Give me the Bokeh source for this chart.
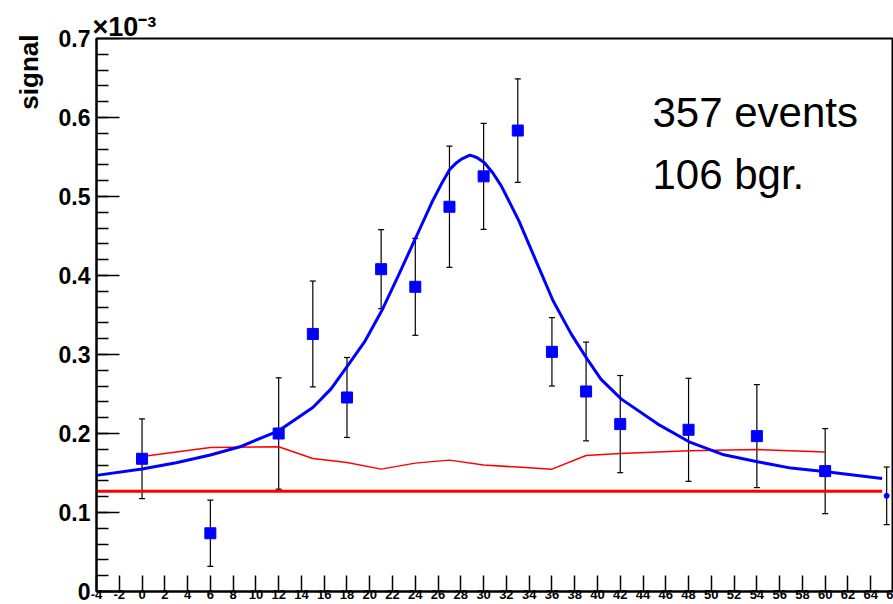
from bokeh.plotting import figure
from bokeh.models import (ColumnDataSource, Whisker, TeeHead, FixedTicker, Label,
                          Range1d, Title)
from bokeh.embed import file_html
from bokeh.resources import INLINE

# ---------------- data (signal in units of 1e-3) ----------------
x_pts = [0, 6, 12, 15, 18, 21, 24, 27, 30, 33, 36, 39, 42, 48, 54, 60]
y_pts = [0.168, 0.0737, 0.200, 0.326, 0.2456, 0.408, 0.3857, 0.487, 0.5255,
         0.5835, 0.3034, 0.2532, 0.2119, 0.2047, 0.1967, 0.1524]
y_err = [0.0505, 0.042, 0.0705, 0.067, 0.0506, 0.050, 0.0614, 0.0767, 0.067,
         0.0655, 0.0433, 0.0625, 0.0615, 0.0652, 0.0652, 0.0538]

extra_x = [65.4]
extra_y = [0.1211]
extra_err = [0.0365]

bgr_x = [0, 6, 12, 15, 18, 21, 24, 27, 30, 33, 36, 39, 42, 48, 54, 60]
bgr_y = [0.1709, 0.1823, 0.1832, 0.1684, 0.1633, 0.1549, 0.1625, 0.1663,
         0.160, 0.1575, 0.1549, 0.1722, 0.1747, 0.1781, 0.1797, 0.1765]

level_x = [-4, 65]
level_y = [0.127, 0.127]

fit_x = [-4.0, 0.0, 3.0, 6.0, 8.6, 12.0, 15.0, 16.6, 18.05, 19.6, 21.05, 22.5,
         24.05, 25.45, 26.3, 27.05, 27.6, 28.05, 28.8, 29.4, 30.05, 30.8, 31.55,
         33.1, 34.6, 36.1, 37.7, 39.1, 40.3, 42.1, 45.3, 48.05, 51.1, 54.05,
         57.0, 60.1, 65.0]
fit_y = [0.147, 0.155, 0.163, 0.1727, 0.1832, 0.2034, 0.2329, 0.2565, 0.2857,
         0.3173, 0.3553, 0.3996, 0.4481, 0.4924, 0.5160, 0.5347, 0.5425, 0.5473,
         0.5524, 0.5494, 0.543, 0.530, 0.5135, 0.4692, 0.4186, 0.368, 0.3258,
         0.2942, 0.2689, 0.2435, 0.2119, 0.1895, 0.173, 0.1642, 0.1562, 0.1515,
         0.143]

x_ticks = list(range(-4, 67, 2))
# last label is cut by the right edge in the reference: only "6" is visible
x_tick_labels = [str(t) for t in range(-4, 65, 2)] + ["6"]
y_ticks = [0, 0.1, 0.2, 0.3, 0.4, 0.5, 0.6, 0.7]
y_tick_labels = ["0", "0.1", "0.2", "0.3", "0.4", "0.5", "0.6", "0.7"]
y_minor = [i * 0.02 for i in range(0, 36)]

FONT = "Liberation Sans"
BLUE = "#0000ff"
RED = "#ff0000"

p = figure(width=893, height=604, x_range=Range1d(-4, 66), y_range=Range1d(0, 0.7),
           output_backend="svg", toolbar_location=None,
           min_border_left=95, min_border_right=0, min_border_top=38,
           min_border_bottom=13)
p.background_fill_color = "white"
p.border_fill_color = "white"
p.outline_line_color = "black"
p.outline_line_width = 2
p.xgrid.visible = False
p.ygrid.visible = False

# exponent as the plot title (top left)
p.title.text = "\u00d710\u207b\u00b3"
p.title.align = "left"
p.title.text_font = FONT
p.title.text_font_style = "bold"
p.title.text_font_size = "27px"
p.title.text_color = "black"
p.title.offset = -4
p.title.standoff = -7

# x axis
xa = p.xaxis[0]
xa.ticker = FixedTicker(ticks=x_ticks, minor_ticks=[])
xa.major_label_overrides = {t: s for t, s in zip(x_ticks, x_tick_labels)}
xa.axis_line_width = 2
xa.major_tick_in = 16
xa.major_tick_out = 0
xa.major_tick_line_width = 1.5
xa.minor_tick_in = 0
xa.minor_tick_out = 0
xa.major_label_text_font = FONT
xa.major_label_text_font_style = "bold"
xa.major_label_text_font_size = "13px"
xa.major_label_text_color = "black"
xa.major_label_standoff = -2

# y axis
ya = p.yaxis[0]
ya.ticker = FixedTicker(ticks=y_ticks, minor_ticks=y_minor)
ya.axis_line_width = 2
ya.major_tick_in = 23
ya.major_tick_out = 0
ya.major_tick_line_width = 1.5
ya.minor_tick_in = 12
ya.minor_tick_out = 0
ya.minor_tick_line_width = 1.5
ya.major_label_overrides = {t: s for t, s in zip(y_ticks, y_tick_labels)}
ya.major_label_text_font = FONT
ya.major_label_text_font_style = "bold"
ya.major_label_text_font_size = "23px"
ya.major_label_text_color = "black"
ya.major_label_standoff = 6

# y axis title, top-aligned on the left
p.add_layout(Title(text="signal", align="right", text_font=FONT,
                   text_font_style="bold", text_font_size="26px",
                   text_color="black", offset=-4, standoff=23), "left")

# lines
p.line(level_x, level_y, line_color=RED, line_width=3)
p.line(bgr_x, bgr_y, line_color=RED, line_width=1.5)
p.line(fit_x, fit_y, line_color=BLUE, line_width=3)

# error bars
src = ColumnDataSource(dict(x=x_pts, y=y_pts,
                            lo=[v - e for v, e in zip(y_pts, y_err)],
                            hi=[v + e for v, e in zip(y_pts, y_err)]))
src2 = ColumnDataSource(dict(x=extra_x, y=extra_y,
                             lo=[v - e for v, e in zip(extra_y, extra_err)],
                             hi=[v + e for v, e in zip(extra_y, extra_err)]))
for s in (src, src2):
    w = Whisker(source=s, base="x", lower="lo", upper="hi", dimension="height",
                line_color="black", line_width=1.2, level="underlay",
                upper_head=TeeHead(size=6, line_color="black", line_width=1.2),
                lower_head=TeeHead(size=6, line_color="black", line_width=1.2))
    p.add_layout(w)

p.scatter("x", "y", source=src, marker="square", size=11, fill_color=BLUE,
          line_color=BLUE)
p.scatter("x", "y", source=src2, marker="circle", size=5, fill_color=BLUE,
          line_color=BLUE)

# annotations
p.add_layout(Label(x=44.83, y=0.6063, text="357 events", text_font=FONT,
                   text_font_size="42px", text_color="black", text_align="left",
                   text_baseline="alphabetic"))
p.add_layout(Label(x=44.83, y=0.5284, text="106 bgr.", text_font=FONT,
                   text_font_size="42px", text_color="black", text_align="left",
                   text_baseline="alphabetic"))

open("out.html", "w").write(file_html(p, INLINE))
